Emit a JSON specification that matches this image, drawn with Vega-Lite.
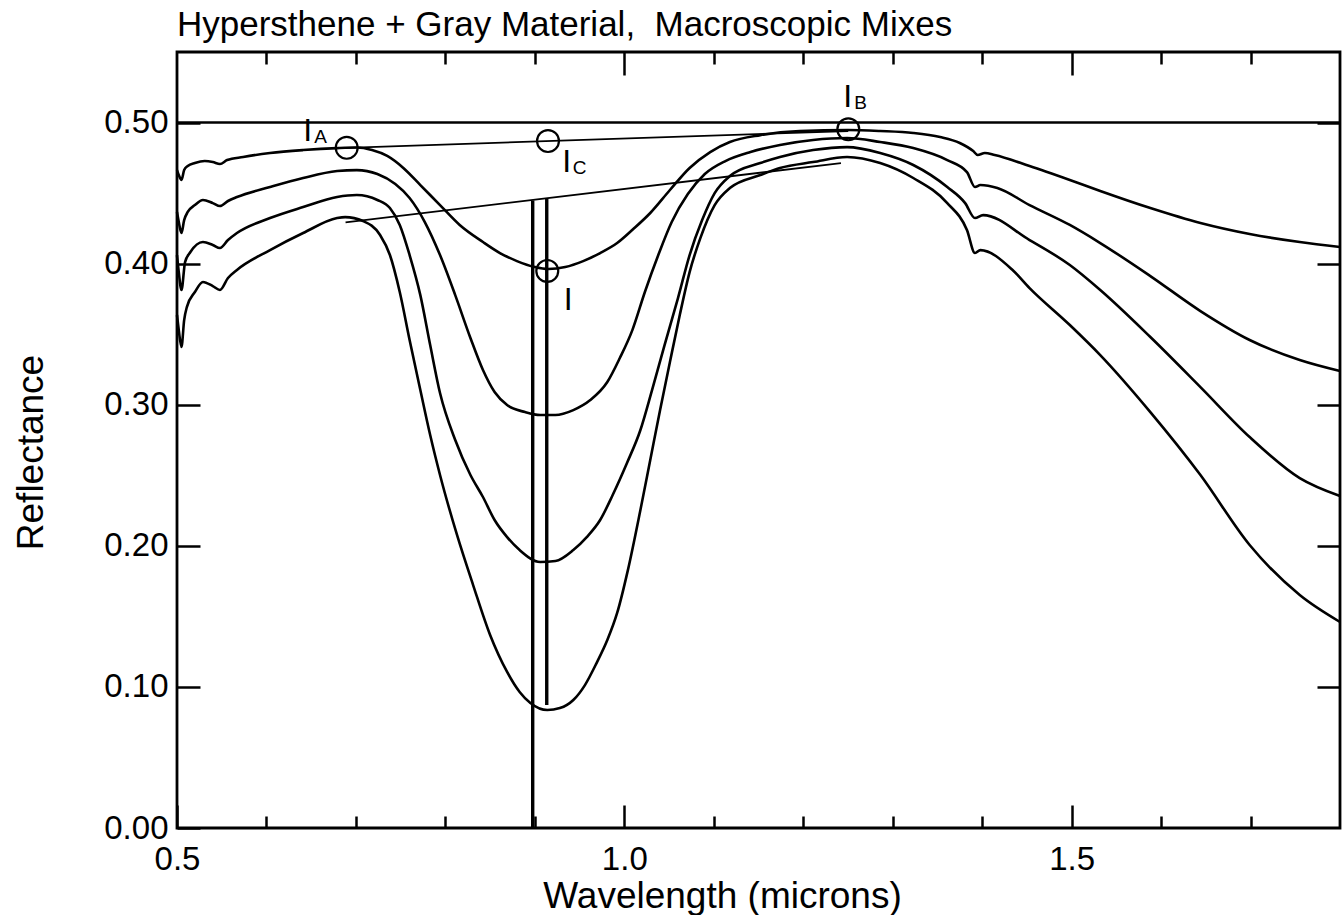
{
  "$schema": "https://vega.github.io/schema/vega-lite/v6.json",
  "width": 1163,
  "height": 776,
  "autosize": {"type": "none"},
  "padding": {"left": 177, "top": 52, "right": 3, "bottom": 87},
  "background": "white",
  "title": {"text": "Hypersthene + Gray Material,\u00a0 Macroscopic Mixes", "anchor": "start", "frame": "group", "fontSize": 35, "font": "Liberation Sans", "fontWeight": "normal", "color": "black", "baseline": "alphabetic", "offset": 15, "dy": 35},
  "config": {
    "view": {"stroke": "black", "strokeWidth": 2.8},
    "axis": {"domain": false, "grid": false, "labelFont": "Liberation Sans", "titleFont": "Liberation Sans", "labelColor": "black", "titleColor": "black", "tickColor": "black", "tickWidth": 2.5, "labelFontSize": 33, "titleFontSize": 37, "titleFontWeight": "normal", "labelFlush": false, "labelOverlap": false}
  },
  "datasets": {
    "spectra": [
      {"c":1,"w":0.5,"r":0.4663},{"c":1,"w":0.502,"r":0.4628},{"c":1,"w":0.505,"r":0.4593},{"c":1,"w":0.508,"r":0.4663},{"c":1,"w":0.512,"r":0.4692},{"c":1,"w":0.52,"r":0.4713},{"c":1,"w":0.531,"r":0.4727},{"c":1,"w":0.54,"r":0.472},{"c":1,"w":0.548,"r":0.4706},{"c":1,"w":0.556,"r":0.4734},{"c":1,"w":0.574,"r":0.4756},{"c":1,"w":0.604,"r":0.4784},{"c":1,"w":0.641,"r":0.4805},{"c":1,"w":0.679,"r":0.4819},{"c":1,"w":0.701,"r":0.4823},{"c":1,"w":0.718,"r":0.4805},{"c":1,"w":0.735,"r":0.4763},{"c":1,"w":0.753,"r":0.4678},{"c":1,"w":0.772,"r":0.4557},{"c":1,"w":0.794,"r":0.4415},{"c":1,"w":0.816,"r":0.4274},{"c":1,"w":0.842,"r":0.4153},{"c":1,"w":0.861,"r":0.4075},{"c":1,"w":0.88,"r":0.4018},{"c":1,"w":0.9,"r":0.3976},{"c":1,"w":0.915,"r":0.3962},{"c":1,"w":0.934,"r":0.3976},{"c":1,"w":0.954,"r":0.4018},{"c":1,"w":0.973,"r":0.4075},{"c":1,"w":0.992,"r":0.4146},{"c":1,"w":1.01,"r":0.4245},{"c":1,"w":1.029,"r":0.4359},{"c":1,"w":1.051,"r":0.4522},{"c":1,"w":1.073,"r":0.4678},{"c":1,"w":1.096,"r":0.4791},{"c":1,"w":1.118,"r":0.4862},{"c":1,"w":1.152,"r":0.4911},{"c":1,"w":1.196,"r":0.494},{"c":1,"w":1.25,"r":0.4947},{"c":1,"w":1.286,"r":0.494},{"c":1,"w":1.323,"r":0.4926},{"c":1,"w":1.353,"r":0.4897},{"c":1,"w":1.375,"r":0.4855},{"c":1,"w":1.39,"r":0.4798},{"c":1,"w":1.395,"r":0.477},{"c":1,"w":1.403,"r":0.4784},{"c":1,"w":1.414,"r":0.477},{"c":1,"w":1.453,"r":0.4692},{"c":1,"w":1.498,"r":0.4593},{"c":1,"w":1.532,"r":0.4515},{"c":1,"w":1.588,"r":0.4394},{"c":1,"w":1.644,"r":0.4288},{"c":1,"w":1.699,"r":0.421},{"c":1,"w":1.755,"r":0.4153},{"c":1,"w":1.8,"r":0.4118},
      {"c":2,"w":0.5,"r":0.4366},{"c":2,"w":0.502,"r":0.4295},{"c":2,"w":0.505,"r":0.4217},{"c":2,"w":0.508,"r":0.4309},{"c":2,"w":0.512,"r":0.4366},{"c":2,"w":0.52,"r":0.4415},{"c":2,"w":0.529,"r":0.4451},{"c":2,"w":0.54,"r":0.4429},{"c":2,"w":0.548,"r":0.4408},{"c":2,"w":0.557,"r":0.4444},{"c":2,"w":0.567,"r":0.4472},{"c":2,"w":0.604,"r":0.4543},{"c":2,"w":0.641,"r":0.4607},{"c":2,"w":0.679,"r":0.4656},{"c":2,"w":0.701,"r":0.4663},{"c":2,"w":0.724,"r":0.4635},{"c":2,"w":0.744,"r":0.4564},{"c":2,"w":0.76,"r":0.4465},{"c":2,"w":0.777,"r":0.4295},{"c":2,"w":0.794,"r":0.4061},{"c":2,"w":0.811,"r":0.3777},{"c":2,"w":0.828,"r":0.3473},{"c":2,"w":0.842,"r":0.3246},{"c":2,"w":0.855,"r":0.309},{"c":2,"w":0.869,"r":0.2998},{"c":2,"w":0.889,"r":0.2948},{"c":2,"w":0.906,"r":0.2927},{"c":2,"w":0.923,"r":0.2927},{"c":2,"w":0.943,"r":0.2962},{"c":2,"w":0.962,"r":0.3033},{"c":2,"w":0.981,"r":0.3161},{"c":2,"w":0.995,"r":0.3331},{"c":2,"w":1.009,"r":0.3529},{"c":2,"w":1.023,"r":0.3799},{"c":2,"w":1.038,"r":0.4061},{"c":2,"w":1.053,"r":0.4295},{"c":2,"w":1.071,"r":0.4493},{"c":2,"w":1.09,"r":0.4635},{"c":2,"w":1.113,"r":0.4727},{"c":2,"w":1.141,"r":0.4791},{"c":2,"w":1.174,"r":0.4841},{"c":2,"w":1.211,"r":0.4876},{"c":2,"w":1.249,"r":0.489},{"c":2,"w":1.286,"r":0.4862},{"c":2,"w":1.323,"r":0.4819},{"c":2,"w":1.361,"r":0.4734},{"c":2,"w":1.383,"r":0.4649},{"c":2,"w":1.392,"r":0.4543},{"c":2,"w":1.398,"r":0.4557},{"c":2,"w":1.417,"r":0.4536},{"c":2,"w":1.453,"r":0.4415},{"c":2,"w":1.498,"r":0.4274},{"c":2,"w":1.532,"r":0.4146},{"c":2,"w":1.588,"r":0.3912},{"c":2,"w":1.644,"r":0.3664},{"c":2,"w":1.699,"r":0.3459},{"c":2,"w":1.755,"r":0.3317},{"c":2,"w":1.8,"r":0.3239},
      {"c":3,"w":0.5,"r":0.4061},{"c":3,"w":0.502,"r":0.394},{"c":3,"w":0.505,"r":0.3813},{"c":3,"w":0.509,"r":0.4011},{"c":3,"w":0.515,"r":0.4082},{"c":3,"w":0.529,"r":0.4153},{"c":3,"w":0.54,"r":0.4132},{"c":3,"w":0.548,"r":0.4111},{"c":3,"w":0.557,"r":0.4167},{"c":3,"w":0.567,"r":0.4217},{"c":3,"w":0.604,"r":0.4323},{"c":3,"w":0.641,"r":0.4401},{"c":3,"w":0.679,"r":0.4472},{"c":3,"w":0.701,"r":0.4486},{"c":3,"w":0.724,"r":0.4451},{"c":3,"w":0.738,"r":0.4394},{"c":3,"w":0.749,"r":0.4274},{"c":3,"w":0.76,"r":0.4061},{"c":3,"w":0.772,"r":0.3777},{"c":3,"w":0.783,"r":0.3423},{"c":3,"w":0.794,"r":0.3083},{"c":3,"w":0.811,"r":0.275},{"c":3,"w":0.828,"r":0.2502},{"c":3,"w":0.842,"r":0.2346},{"c":3,"w":0.855,"r":0.2183},{"c":3,"w":0.869,"r":0.2062},{"c":3,"w":0.883,"r":0.197},{"c":3,"w":0.906,"r":0.1885},{"c":3,"w":0.923,"r":0.1892},{"c":3,"w":0.943,"r":0.197},{"c":3,"w":0.958,"r":0.2062},{"c":3,"w":0.973,"r":0.2183},{"c":3,"w":0.987,"r":0.236},{"c":3,"w":1.003,"r":0.2587},{"c":3,"w":1.018,"r":0.2821},{"c":3,"w":1.031,"r":0.3104},{"c":3,"w":1.045,"r":0.3423},{"c":3,"w":1.06,"r":0.3756},{"c":3,"w":1.073,"r":0.4061},{"c":3,"w":1.087,"r":0.4309},{"c":3,"w":1.101,"r":0.45},{"c":3,"w":1.118,"r":0.4621},{"c":3,"w":1.152,"r":0.4713},{"c":3,"w":1.174,"r":0.4756},{"c":3,"w":1.211,"r":0.4805},{"c":3,"w":1.249,"r":0.4826},{"c":3,"w":1.286,"r":0.4784},{"c":3,"w":1.323,"r":0.4699},{"c":3,"w":1.361,"r":0.4543},{"c":3,"w":1.381,"r":0.4429},{"c":3,"w":1.392,"r":0.4323},{"c":3,"w":1.401,"r":0.4344},{"c":3,"w":1.453,"r":0.4167},{"c":3,"w":1.498,"r":0.399},{"c":3,"w":1.532,"r":0.3813},{"c":3,"w":1.588,"r":0.348},{"c":3,"w":1.644,"r":0.3125},{"c":3,"w":1.699,"r":0.2771},{"c":3,"w":1.755,"r":0.248},{"c":3,"w":1.8,"r":0.2353},
      {"c":4,"w":0.5,"r":0.3636},{"c":4,"w":0.502,"r":0.3529},{"c":4,"w":0.505,"r":0.3409},{"c":4,"w":0.508,"r":0.36},{"c":4,"w":0.511,"r":0.3692},{"c":4,"w":0.52,"r":0.3799},{"c":4,"w":0.529,"r":0.387},{"c":4,"w":0.54,"r":0.3841},{"c":4,"w":0.548,"r":0.3813},{"c":4,"w":0.557,"r":0.3898},{"c":4,"w":0.567,"r":0.3955},{"c":4,"w":0.604,"r":0.4096},{"c":4,"w":0.641,"r":0.4217},{"c":4,"w":0.679,"r":0.4323},{"c":4,"w":0.688,"r":0.433},{"c":4,"w":0.708,"r":0.4302},{"c":4,"w":0.727,"r":0.4203},{"c":4,"w":0.738,"r":0.4061},{"c":4,"w":0.749,"r":0.3799},{"c":4,"w":0.76,"r":0.3459},{"c":4,"w":0.772,"r":0.3104},{"c":4,"w":0.783,"r":0.2785},{"c":4,"w":0.794,"r":0.2502},{"c":4,"w":0.813,"r":0.2077},{"c":4,"w":0.831,"r":0.1722},{"c":4,"w":0.85,"r":0.1368},{"c":4,"w":0.869,"r":0.1106},{"c":4,"w":0.883,"r":0.0964},{"c":4,"w":0.895,"r":0.0886},{"c":4,"w":0.914,"r":0.0836},{"c":4,"w":0.928,"r":0.085},{"c":4,"w":0.943,"r":0.0907},{"c":4,"w":0.956,"r":0.1013},{"c":4,"w":0.969,"r":0.1169},{"c":4,"w":0.981,"r":0.1332},{"c":4,"w":0.992,"r":0.1524},{"c":4,"w":1.004,"r":0.1828},{"c":4,"w":1.018,"r":0.2254},{"c":4,"w":1.029,"r":0.2608},{"c":4,"w":1.04,"r":0.2962},{"c":4,"w":1.051,"r":0.3303},{"c":4,"w":1.062,"r":0.3636},{"c":4,"w":1.073,"r":0.394},{"c":4,"w":1.085,"r":0.4181},{"c":4,"w":1.101,"r":0.4415},{"c":4,"w":1.118,"r":0.4536},{"c":4,"w":1.152,"r":0.4628},{"c":4,"w":1.174,"r":0.4678},{"c":4,"w":1.211,"r":0.472},{"c":4,"w":1.249,"r":0.4756},{"c":4,"w":1.286,"r":0.4713},{"c":4,"w":1.323,"r":0.4607},{"c":4,"w":1.361,"r":0.4429},{"c":4,"w":1.383,"r":0.4238},{"c":4,"w":1.392,"r":0.4075},{"c":4,"w":1.398,"r":0.4096},{"c":4,"w":1.434,"r":0.3955},{"c":4,"w":1.453,"r":0.3827},{"c":4,"w":1.498,"r":0.3565},{"c":4,"w":1.532,"r":0.3352},{"c":4,"w":1.588,"r":0.2948},{"c":4,"w":1.644,"r":0.2502},{"c":4,"w":1.699,"r":0.2006},{"c":4,"w":1.755,"r":0.1651},{"c":4,"w":1.8,"r":0.146}
    ],
    "segments": [
      {"s":"ref","x":0.5,"y":0.5,"x2":1.8,"y2":0.5},
      {"s":"cont","x":0.6897,"y":0.4821,"x2":1.2503,"y2":0.494},
      {"s":"cont","x":0.6884,"y":0.4293,"x2":1.2422,"y2":0.4713},
      {"s":"vert","x":0.8976,"y":0,"x2":0.8976,"y2":0.4448},
      {"s":"vert","x":0.9133,"y":0.0872,"x2":0.9133,"y2":0.4462}
    ],
    "circles": [
      {"x":0.6897,"y":0.4821},{"x":0.9147,"y":0.4869},{"x":1.2504,"y":0.4952},{"x":0.9139,"y":0.3948}
    ],
    "labels": [
      {"t":"I","s":"A","x":0.6461,"y":0.4869},
      {"t":"I","s":"C","x":0.9356,"y":0.4649},
      {"t":"I","s":"B","x":1.2497,"y":0.511},
      {"t":"I","s":"","x":0.9374,"y":0.3671}
    ]
  },
  "resolve": {"axis": {"x": "independent", "y": "independent"}},
  "layer": [
    {
      "data": {"name": "spectra"},
      "mark": {"type": "line", "color": "black", "strokeWidth": 2.6, "interpolate": "monotone"},
      "encoding": {
        "x": {"field": "w", "type": "quantitative", "scale": {"domain": [0.5, 1.8], "nice": false, "zero": false},
              "axis": {"orient": "bottom", "values": [0.5, 1.0, 1.5], "format": ".1f", "tickSize": -23, "labelPadding": 38, "title": "Wavelength (microns)", "titleX": 545, "titleY": 79, "titleBaseline": "alphabetic", "titleAlign": "center", "titleAnchor": null}},
        "y": {"field": "r", "type": "quantitative", "scale": {"domain": [0, 0.55], "nice": false, "zero": false},
              "axis": {"orient": "left", "values": [0, 0.1, 0.2, 0.3, 0.4, 0.5], "format": ".2f", "tickSize": -23, "labelPadding": 32, "title": "Reflectance", "titleX": -135, "titleY": 400, "titleBaseline": "alphabetic", "titleAlign": "center", "titleAngle": 270}},
        "detail": {"field": "c", "type": "nominal"}
      }
    },
    {
      "data": {"name": "segments"},
      "transform": [{"filter": "datum.s === 'ref'"}],
      "mark": {"type": "rule", "color": "black", "strokeWidth": 2.5},
      "encoding": {
        "x": {"field": "x", "type": "quantitative", "scale": {"domain": [0.5, 1.8], "nice": false, "zero": false},
              "axis": {"orient": "bottom", "values": [0.6, 0.7, 0.8, 0.9, 1.1, 1.2, 1.3, 1.4, 1.6, 1.7], "tickSize": -12, "labels": false, "title": null}},
        "x2": {"field": "x2"},
        "y": {"field": "y", "type": "quantitative", "scale": {"domain": [0, 0.55], "nice": false, "zero": false},
              "axis": {"orient": "right", "values": [0.1, 0.2, 0.3, 0.4, 0.5], "tickSize": -23, "labels": false, "title": null}},
        "y2": {"field": "y2"}
      }
    },
    {
      "data": {"name": "segments"},
      "transform": [{"filter": "datum.s === 'cont'"}],
      "mark": {"type": "rule", "color": "black", "strokeWidth": 1.8},
      "encoding": {
        "x": {"field": "x", "type": "quantitative", "scale": {"domain": [0.5, 1.8], "nice": false, "zero": false},
              "axis": {"orient": "top", "values": [1.0, 1.5], "tickSize": -23, "labels": false, "title": null}},
        "x2": {"field": "x2"},
        "y": {"field": "y", "type": "quantitative", "scale": {"domain": [0, 0.55], "nice": false, "zero": false}, "axis": null},
        "y2": {"field": "y2"}
      }
    },
    {
      "data": {"name": "segments"},
      "transform": [{"filter": "datum.s === 'vert'"}],
      "mark": {"type": "rule", "color": "black", "strokeWidth": 3.4},
      "encoding": {
        "x": {"field": "x", "type": "quantitative", "scale": {"domain": [0.5, 1.8], "nice": false, "zero": false},
              "axis": {"orient": "top", "values": [0.6, 0.7, 0.8, 0.9, 1.1, 1.2, 1.3, 1.4, 1.6, 1.7], "tickSize": -12, "labels": false, "title": null}},
        "x2": {"field": "x2"},
        "y": {"field": "y", "type": "quantitative", "scale": {"domain": [0, 0.55], "nice": false, "zero": false}, "axis": null},
        "y2": {"field": "y2"}
      }
    },
    {
      "data": {"name": "circles"},
      "mark": {"type": "point", "shape": "circle", "filled": false, "size": 480, "stroke": "black", "strokeWidth": 2.2, "opacity": 1},
      "encoding": {
        "x": {"field": "x", "type": "quantitative", "scale": {"domain": [0.5, 1.8], "nice": false, "zero": false}, "axis": null},
        "y": {"field": "y", "type": "quantitative", "scale": {"domain": [0, 0.55], "nice": false, "zero": false}, "axis": null}
      }
    },
    {
      "data": {"name": "labels"},
      "mark": {"type": "text", "font": "Liberation Sans", "fontSize": 32, "color": "black", "align": "center", "baseline": "alphabetic"},
      "encoding": {
        "x": {"field": "x", "type": "quantitative", "scale": {"domain": [0.5, 1.8], "nice": false, "zero": false}, "axis": null},
        "y": {"field": "y", "type": "quantitative", "scale": {"domain": [0, 0.55], "nice": false, "zero": false}, "axis": null},
        "text": {"field": "t"}
      }
    },
    {
      "data": {"name": "labels"},
      "mark": {"type": "text", "font": "Liberation Sans", "fontSize": 19, "color": "black", "align": "center", "baseline": "alphabetic", "dx": 13, "dy": 2},
      "encoding": {
        "x": {"field": "x", "type": "quantitative", "scale": {"domain": [0.5, 1.8], "nice": false, "zero": false}, "axis": null},
        "y": {"field": "y", "type": "quantitative", "scale": {"domain": [0, 0.55], "nice": false, "zero": false}, "axis": null},
        "text": {"field": "s"}
      }
    }
  ]
}
